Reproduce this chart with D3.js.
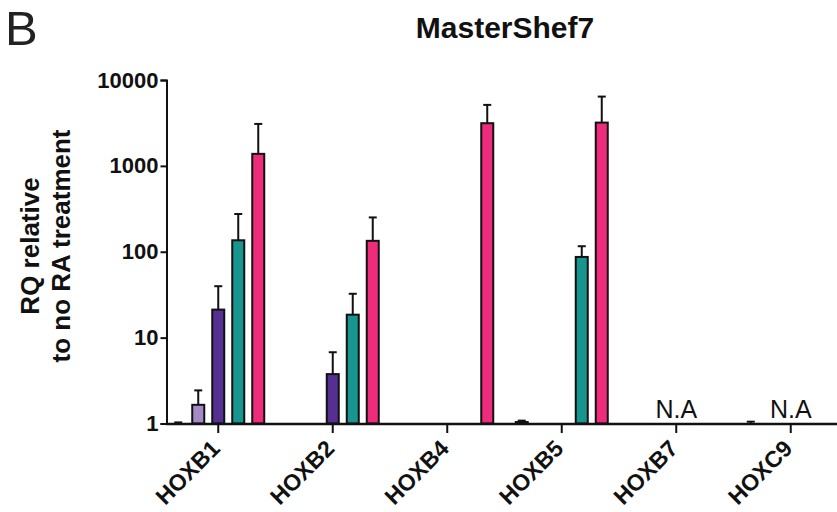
<!DOCTYPE html>
<html>
<head>
<meta charset="utf-8">
<script src="https://cdn.jsdelivr.net/npm/d3@7/dist/d3.min.js"></script>
<style>
  html, body { margin: 0; padding: 0; background: #fff; }
  svg { display: block; font-family: "Liberation Sans", Arial, sans-serif; }
</style>
</head>
<body>
<svg id="chart" width="837" height="512"></svg>
<script>
// ---- data ----
const categories = ["HOXB1", "HOXB2", "HOXB4", "HOXB5", "HOXB7", "HOXC9"];
const seriesNames = ["s0", "s1", "s2", "s3", "s4"];
const seriesColors = ["#ffffff", "#a58bc6", "#552f91", "#18958f", "#ef2c7b"];
// mean RQ per series (index = category), null = no bar
const s0Values = [1.0, null, null, 1.04, null, 1.0];
const s1Values = [1.65, null, null, null, null, null];
const s2Values = [21.2, 3.76, null, null, null, null];
const s3Values = [136, 18.5, null, 87, null, null];
const s4Values = [1380, 134, 3140, 3190, null, null];
// upper error bar ends
const s0Errors = [1.03, null, null, 1.08, null, 1.05];
const s1Errors = [2.43, null, null, null, null, null];
const s2Errors = [39.7, 6.76, null, null, null, null];
const s3Errors = [275, 32.4, null, 116, null, null];
const s4Errors = [3080, 251, 5130, 6410, null, null];
const naCategories = ["HOXB7", "HOXC9"];
const yTicks = [1, 10, 100, 1000, 10000];

const values = [s0Values, s1Values, s2Values, s3Values, s4Values];
const errors = [s0Errors, s1Errors, s2Errors, s3Errors, s4Errors];

const svg = d3.select("#chart");

const y = d3.scaleLog().domain([1, 10000]).range([423.5, 80]);
const x = d3.scaleBand().domain(categories).range([161, 848]).padding(0);
const xs = d3.scaleBand().domain(seriesNames).range([-50, 50]).paddingInner(0.4).paddingOuter(0.2);

const data = [];
seriesNames.forEach((s, si) => {
  categories.forEach((c, ci) => {
    const v = values[si][ci];
    if (v != null) data.push({ s, si, c, v, e: errors[si][ci] });
  });
});

// bars
const g = svg.append("g");
g.selectAll("rect.bar").data(data).enter().append("rect")
  .attr("class", "bar")
  .attr("x", d => x(d.c) + x.bandwidth() / 2 + xs(d.s))
  .attr("width", xs.bandwidth())
  .attr("y", d => y(d.v))
  .attr("height", d => y(1) - y(d.v))
  .attr("fill", d => seriesColors[d.si])
  .attr("stroke", "#111")
  .attr("stroke-width", 2);

// error bars
const eb = g.selectAll("g.err").data(data.filter(d => d.e != null)).enter().append("g").attr("class", "err");
eb.append("line")
  .attr("x1", d => x(d.c) + x.bandwidth() / 2 + xs(d.s) + xs.bandwidth() / 2)
  .attr("x2", d => x(d.c) + x.bandwidth() / 2 + xs(d.s) + xs.bandwidth() / 2)
  .attr("y1", d => y(d.v))
  .attr("y2", d => y(d.e))
  .attr("stroke", "#111").attr("stroke-width", 2);
eb.append("line")
  .attr("x1", d => x(d.c) + x.bandwidth() / 2 + xs(d.s) + xs.bandwidth() / 2 - 4)
  .attr("x2", d => x(d.c) + x.bandwidth() / 2 + xs(d.s) + xs.bandwidth() / 2 + 4)
  .attr("y1", d => y(d.e))
  .attr("y2", d => y(d.e))
  .attr("stroke", "#111").attr("stroke-width", 2);

// y axis
const yAxis = d3.axisLeft(y).tickValues(yTicks).tickFormat(d3.format("d")).tickSize(6).tickPadding(2);
const ya = svg.append("g").attr("transform", "translate(166.5,0)").call(yAxis);
ya.select(".domain").attr("stroke", "#111").attr("stroke-width", 2);
ya.selectAll(".tick line").attr("stroke", "#111").attr("stroke-width", 2);
ya.selectAll(".tick text")
  .attr("font-size", 22).attr("font-weight", "bold").attr("fill", "#111")
  .attr("font-family", "'Liberation Sans', Arial, sans-serif");

// x axis
const xAxis = d3.axisBottom(x).tickSize(9).tickFormat("");
const xa = svg.append("g").attr("transform", "translate(0,424)").call(xAxis);
xa.select(".domain").attr("d", "M166,0H837").attr("stroke", "#111").attr("stroke-width", 2.5);
xa.selectAll(".tick line").attr("stroke", "#111").attr("stroke-width", 2);

// x labels
svg.append("g").selectAll("text").data(categories).enter().append("text")
  .attr("transform", d => `translate(${x(d) + x.bandwidth() / 2 + 3},450) rotate(-45)`)
  .attr("text-anchor", "end")
  .attr("font-size", 23).attr("font-weight", "bold").attr("fill", "#111")
  .text(d => d);

// N.A labels
svg.append("g").selectAll("text").data(naCategories).enter().append("text")
  .attr("x", d => x(d) + x.bandwidth() / 2)
  .attr("y", 418)
  .attr("text-anchor", "middle")
  .attr("font-size", 25).attr("fill", "#111")
  .text("N.A");

// y label
const yl = svg.append("text")
  .attr("transform", "translate(0,246) rotate(-90)")
  .attr("text-anchor", "middle")
  .attr("font-size", 26).attr("font-weight", "bold").attr("fill", "#111");
yl.append("tspan").attr("x", 0).attr("y", 39).text("RQ relative");
yl.append("tspan").attr("x", 0).attr("y", 70).text("to no RA treatment");

// title
svg.append("text")
  .attr("x", 505).attr("y", 38)
  .attr("text-anchor", "middle")
  .attr("font-size", 30).attr("font-weight", "bold").attr("fill", "#111")
  .text("MasterShef7");

// panel letter
svg.append("text")
  .attr("x", 5).attr("y", 45)
  .attr("font-size", 49).attr("fill", "#222")
  .text("B");
</script>
</body>
</html>
